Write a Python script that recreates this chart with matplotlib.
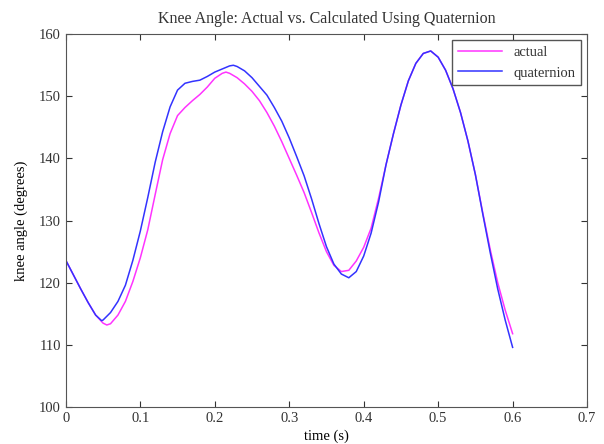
import matplotlib
matplotlib.use("Agg")
import matplotlib.pyplot as plt

# time (s)
t_actual = [0.00, 0.01, 0.02, 0.03, 0.04, 0.05, 0.055, 0.06, 0.07, 0.08, 0.09,
            0.10, 0.11, 0.12, 0.13, 0.14, 0.15, 0.16, 0.17, 0.18, 0.19, 0.20,
            0.21, 0.215, 0.22, 0.23, 0.24, 0.25, 0.26, 0.27, 0.28, 0.29, 0.30,
            0.31, 0.32, 0.33, 0.34, 0.35, 0.36, 0.37, 0.38, 0.39, 0.40, 0.41,
            0.42, 0.43, 0.44, 0.45, 0.46, 0.47, 0.48, 0.49, 0.50, 0.51, 0.52,
            0.53, 0.54, 0.55, 0.56, 0.57, 0.58, 0.59, 0.60]
actual = [123.6, 121.3, 119.0, 116.8, 114.8, 113.5, 113.2, 113.4, 114.8, 117.0, 120.2,
          124.0, 128.5, 134.2, 139.8, 144.0, 146.9, 148.2, 149.3, 150.3, 151.5, 152.9,
          153.7, 153.9, 153.7, 153.0, 152.0, 150.8, 149.3, 147.4, 145.2, 142.7, 140.0,
          137.3, 134.5, 131.3, 128.0, 125.0, 122.8, 121.8, 122.0, 123.5, 125.7, 128.8,
          133.6, 139.0, 144.0, 148.6, 152.5, 155.3, 156.9, 157.3, 156.3, 154.2, 151.2,
          147.4, 142.8, 137.4, 131.2, 125.3, 120.0, 115.6, 111.8]

t_quat = [0.00, 0.01, 0.02, 0.03, 0.04, 0.048, 0.05, 0.06, 0.07, 0.08, 0.09,
          0.10, 0.11, 0.12, 0.13, 0.14, 0.15, 0.16, 0.17, 0.18, 0.19, 0.20,
          0.21, 0.22, 0.225, 0.23, 0.24, 0.25, 0.26, 0.27, 0.28, 0.29, 0.30,
          0.31, 0.32, 0.33, 0.34, 0.35, 0.36, 0.37, 0.38, 0.39, 0.40, 0.41,
          0.42, 0.43, 0.44, 0.45, 0.46, 0.47, 0.48, 0.49, 0.50, 0.51, 0.52,
          0.53, 0.54, 0.55, 0.56, 0.57, 0.58, 0.59, 0.60]
quaternion = [123.6, 121.3, 119.0, 116.8, 114.8, 113.9, 114.0, 115.2, 117.0, 119.6, 123.6,
              128.3, 133.7, 139.4, 144.3, 148.3, 151.0, 152.1, 152.4, 152.6, 153.2, 153.9,
              154.4, 154.9, 155.0, 154.8, 154.1, 153.0, 151.6, 150.2, 148.2, 146.0, 143.3,
              140.3, 137.2, 133.5, 129.5, 125.8, 123.0, 121.4, 120.8, 121.8, 124.3, 128.0,
              133.0, 139.0, 144.0, 148.6, 152.5, 155.3, 156.9, 157.3, 156.3, 154.2, 151.2,
              147.4, 142.8, 137.4, 131.0, 124.8, 119.0, 114.0, 109.6]

plt.rcParams['font.family'] = ['Liberation Serif', 'DejaVu Serif']
plt.rcParams['font.size'] = 10.5
plt.rcParams['text.color'] = '#333333'
plt.rcParams['xtick.color'] = '#333333'
plt.rcParams['ytick.color'] = '#333333'

fig = plt.figure(figsize=(6.04, 4.44), dpi=100)
ax = fig.add_axes([0.109, 0.0833, 0.863, 0.8397])

ax.plot(t_actual, actual, color='#ff33ff', lw=1.1, label='actual')
ax.plot(t_quat, quaternion, color='#3333ff', lw=1.1, label='quaternion')

ax.set_xlim(0, 0.7)
ax.set_ylim(100, 160)
ax.set_xticks([0, 0.1, 0.2, 0.3, 0.4, 0.5, 0.6, 0.7])
ax.set_xticklabels(['0', '0.1', '0.2', '0.3', '0.4', '0.5', '0.6', '0.7'])
ax.tick_params(direction='in', top=True, right=True, length=4, labelsize=10.5)
for s in ax.spines.values():
    s.set_color('#555555')

ax.set_title('Knee Angle: Actual vs. Calculated Using Quaternion', fontsize=11.5, pad=8)
ax.set_xlabel('time (s)', fontsize=10.5, labelpad=3)
ax.set_ylabel('knee angle (degrees)', fontsize=10.5, labelpad=8)

leg = ax.legend(loc='upper right', fancybox=False, framealpha=1, edgecolor='#555555',
                fontsize=10.5, handlelength=3, borderaxespad=0.4)
leg.get_frame().set_linewidth(1.0)

plt.savefig('out.png', dpi=100)
